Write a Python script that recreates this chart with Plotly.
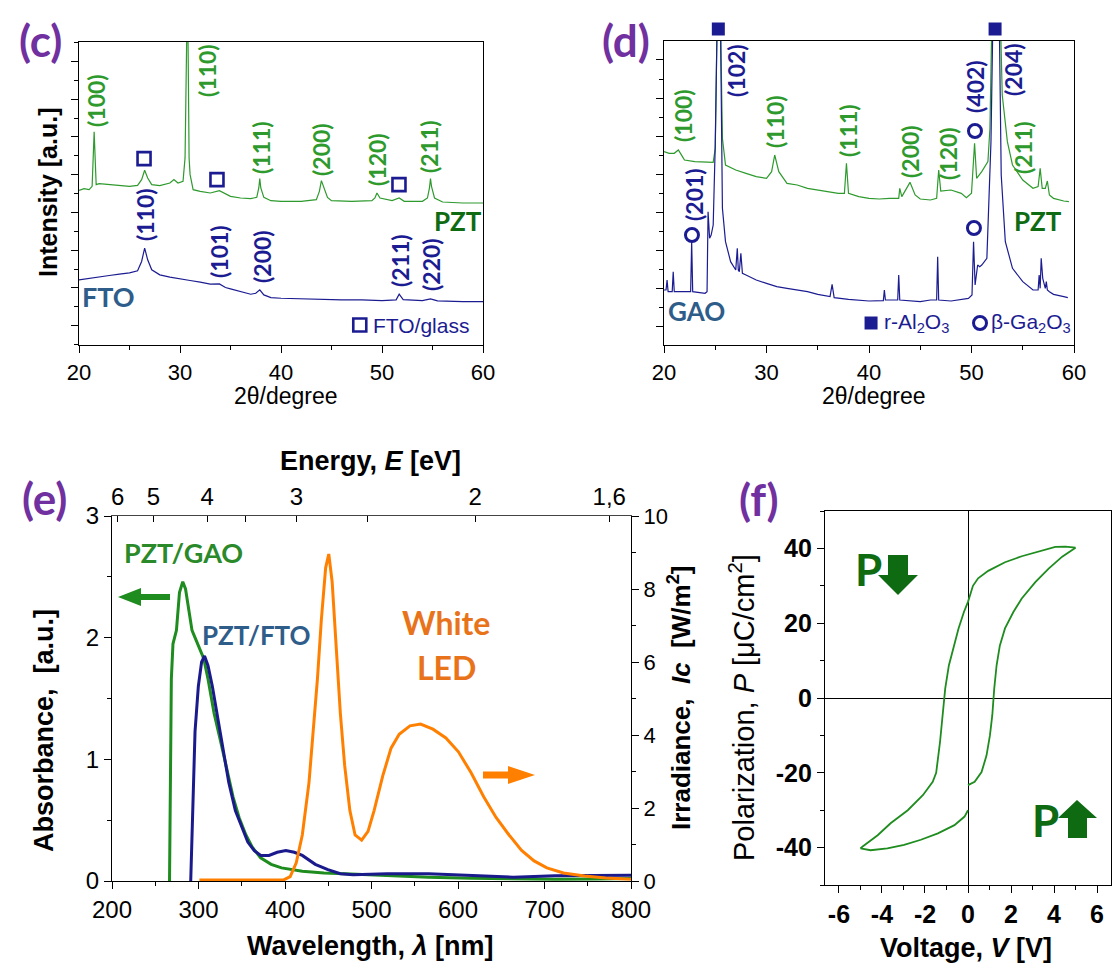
import plotly.graph_objects as go

W, H = 1120, 972

# ---------------- (c) XRD: PZT on FTO ----------------
c_pzt_tt = [20, 20.5, 21, 21.3, 21.5, 21.7, 22, 23, 24, 25,
            25.8, 26.2, 26.5, 26.8, 27.2, 28, 29, 29.4, 29.8, 30.3,
            30.5, 30.6, 30.7, 30.8, 30.9, 31.0, 31.3, 32, 33, 33.9,
            34.5, 35, 36, 37, 37.6, 37.8, 37.9, 38.0, 38.3, 39,
            40, 42, 43.5, 43.8, 44.0, 44.2, 44.6, 45, 47, 49,
            49.3, 49.5, 49.8, 51, 51.7, 52.2, 54, 54.5, 54.7, 54.8,
            54.9, 55.2, 56, 58, 60]
c_pzt_int = [463, 468, 465, 475, 638, 480, 483, 480, 477, 475,
             478, 495, 523, 500, 480, 477, 485, 495, 485, 490,
             560, 900, 1000, 900, 560, 510, 465, 460, 455, 462,
             452, 445, 440, 438, 442, 470, 498, 470, 442, 432,
             430, 430, 435, 460, 492, 475, 442, 432, 430, 432,
             440, 455, 440, 432, 440, 430, 430, 440, 470, 498,
             475, 440, 428, 425, 425]
c_fto_tt = [20, 21, 22, 23, 24, 25, 25.8, 26.2, 26.5, 26.8,
            27.2, 28, 29, 30, 31, 32, 33, 33.9, 34.5, 35,
            36, 37, 37.5, 37.9, 38.3, 39, 40, 42, 44, 46,
            48, 50, 51.4, 51.7, 52.1, 54, 54.8, 55.5, 58, 60]
c_fto_int = [195, 200, 205, 208, 212, 216, 222, 250, 290, 255,
             225, 210, 203, 197, 193, 188, 182, 183, 172, 168,
             160, 152, 155, 165, 150, 142, 140, 138, 138, 135,
             135, 133, 135, 152, 136, 133, 138, 132, 130, 130]
c_glass_tt = [26.44, 33.66, 51.68]
c_glass_int = [558, 495, 480]
c_legend_tt = [47.8]
c_legend_int = [60]
c_pzt_labels = ["(100)", "(110)", "(111)", "(200)", "(120)", "(211)"]
c_fto_labels = ["(110)", "(101)", "(200)", "(211)", "(220)"]

# ---------------- (d) XRD: PZT on GAO ----------------
d_gao_tt = [20, 20.2, 20.3, 20.4, 20.8, 20.9, 21.0, 22, 22.6, 22.7,
            22.8, 24, 24.2, 24.3, 24.45, 24.6, 24.8, 25.0, 25.2, 25.5,
            25.7, 26, 26.5, 27, 27.15, 27.25, 27.35, 27.5, 27.65, 28,
            29, 30, 31, 32, 34, 35, 36.2, 36.4, 36.6, 38,
            40, 41.4, 41.5, 41.6, 42.8, 42.9, 43.0, 45, 46, 46.6,
            46.7, 46.8, 48, 49.7, 50.05, 50.2, 50.35, 50.6, 50.8, 51,
            51.5, 51.9, 52.1, 52.7, 52.9, 53.3, 54, 55, 56, 56.5,
            56.6, 56.7, 56.8, 56.95, 57.2, 57.3, 57.4, 57.6, 58, 59,
            59.4]
d_gao_int = [165, 165, 195, 160, 160, 220, 160, 160, 160, 310,
             160, 155, 160, 400, 320, 330, 360, 600, 1000, 1000,
             410, 310, 250, 225, 290, 225, 220, 275, 215, 210,
             195, 185, 175, 170, 160, 152, 145, 182, 142, 137,
             132, 133, 165, 135, 135, 210, 135, 130, 135, 135,
             265, 135, 132, 140, 150, 310, 180, 240, 235, 240,
             260, 610, 1000, 1000, 510, 310, 230, 190, 165, 165,
             210, 170, 260, 200, 170, 190, 165, 160, 152, 145,
             142]
d_pzt_tt = [20, 20.5, 21, 21.4, 21.8, 22, 23, 24, 24.8, 25.0,
            25.2, 25.5, 25.7, 26, 27, 28, 29, 30, 30.5, 30.8,
            31.2, 32, 33, 34, 35, 36, 37, 37.6, 37.8, 38,
            39, 40, 41, 42, 42.9, 43.0, 43.2, 44, 44.5, 45,
            46, 46.6, 46.8, 47, 48, 49, 49.5, 50, 50.3, 50.5,
            51, 51.6, 51.8, 52.0, 52.8, 53, 53.5, 54, 55, 56,
            56.5, 56.7, 56.9, 57.2, 57.4, 57.6, 58, 59, 59.5]
d_pzt_int = [580, 575, 575, 585, 565, 555, 550, 548, 548, 590,
             1000, 1000, 620, 540, 525, 515, 505, 500, 520, 570,
             520, 485, 480, 470, 465, 460, 455, 455, 545, 455,
             445, 440, 438, 440, 440, 470, 445, 488, 450, 438,
             435, 440, 525, 462, 465, 455, 442, 455, 605, 500,
             520, 550, 650, 1000, 1000, 750, 610, 540, 495, 470,
             475, 530, 470, 470, 492, 450, 440, 432, 430]
d_al2o3_tt = [25.3, 52.3]          # substrate peaks marked above the frame
d_ga2o3_tt = [22.73, 50.34, 50.24]
d_ga2o3_int = [330, 642, 351]
d_legend_sq_tt, d_legend_sq_int = [40.2], [66]
d_legend_ci_tt, d_legend_ci_int = [50.83], [66]
d_pzt_labels = ["(100)", "(110)", "(111)", "(200)", "(120)", "(211)"]
d_sub_labels = ["(201)", "(102)", "(402)", "(204)"]

# ---------------- (e) absorbance / LED irradiance ----------------
gao_nm = [266.5, 267.5, 268.6, 270.5, 274.5, 278, 281.8, 285, 289, 292.5,
          296, 301, 306, 311, 318, 325.5, 333, 340, 347, 354.7,
          362, 371.8, 384, 396, 420, 445, 469, 518, 566, 615,
          664, 712, 761, 800]
gao_abs = [0, 1.2, 1.66, 1.95, 2.06, 2.37, 2.46, 2.40, 2.20, 2.06,
           2.0, 1.92, 1.83, 1.66, 1.38, 1.15, 0.92, 0.69, 0.52, 0.38,
           0.28, 0.19, 0.137, 0.108, 0.08, 0.065, 0.06, 0.043, 0.031, 0.023,
           0.017, 0.014, 0.017, 0.02]
fto_nm = [291, 293, 296, 299.8, 303.6, 307, 311, 316, 320.7, 328,
          335, 342.6, 350, 357, 364.5, 372, 381.5, 391, 401, 410.7,
          420, 435, 449.6, 464, 478.8, 518, 566, 615, 664, 712,
          761, 800]
fto_abs = [0, 0.52, 1.23, 1.6, 1.80, 1.85, 1.77, 1.6, 1.40, 1.09,
           0.81, 0.58, 0.44, 0.32, 0.25, 0.21, 0.21, 0.236, 0.25, 0.236,
           0.21, 0.137, 0.094, 0.06, 0.051, 0.06, 0.06, 0.043, 0.031, 0.043,
           0.048, 0.048]
led_nm = [301, 398.5, 406, 413, 420, 427.7, 432.6, 437.5, 442, 447,
          450.6, 454.5, 459, 464, 469, 475, 481, 488.6, 496, 503,
          513, 522.6, 532, 544.5, 556.7, 571, 586, 600.5, 615, 629.7,
          644, 659, 673.5, 688, 702.7, 722, 746.5, 770.8, 800]
led_irr = [0.03, 0.03, 0.12, 0.5, 1.26, 2.69, 4.11, 5.54, 7.15, 8.58,
           8.96, 8.2, 6.49, 4.59, 3.16, 1.93, 1.26, 1.12, 1.36, 1.93,
           2.88, 3.64, 4.02, 4.25, 4.30, 4.16, 3.92, 3.54, 2.97, 2.31,
           1.74, 1.26, 0.84, 0.55, 0.36, 0.22, 0.14, 0.085, 0.05]
energy_ev = [6, 5, 4, 3, 2, 1.6]
energy_text = ["6", "5", "4", "3", "2", "1,6"]
energy_minor_ev = [3.5, 2.5]

# ---------------- (f) P-V hysteresis ----------------
f_up_V = [5.0, 4.53, 4.06, 3.28, 2.5, 1.72, 0.94, 0.47, 0.23, 0.0,
          -0.19, -0.44, -0.7, -0.89, -1.06, -1.17, -1.3, -1.48, -1.64, -2.1,
          -2.8, -3.6, -4.2, -4.9, -5.0]
f_up_P = [40.2, 40.5, 40.4, 39.1, 37.9, 36.3, 34.0, 32.0, 30.0, 25.7,
          23.0, 18.6, 13.2, 8.7, 2.5, -4.6, -11.7, -20.0, -22.4, -26.0,
          -30.0, -33.5, -36.7, -39.7, -40.2]
f_dn_V = [-5.0, -4.53, -3.75, -2.97, -2.19, -1.4, -0.63, -0.16, 0.0, None,
          0.0, 0.31, 0.63, 0.86, 1.02, 1.13, 1.22, 1.33, 1.48, 1.72,
          2.11, 2.5, 3.13, 3.75, 4.38, 5.0]
f_dn_P = [-40.2, -40.7, -40.2, -39.3, -37.9, -36.2, -34.0, -31.7, -30.0, None,
          -23.3, -22.4, -19.8, -15.4, -10.0, -4.6, 2.5, 8.75, 14.0, 18.6,
          23.0, 26.6, 31.0, 34.6, 37.8, 40.2]
f_v_ticks = [-6, -4, -2, 0, 2, 4, 6]
f_v_text = ["-6", "-4", "-2", "0", "2", "4", "6"]
f_p_ticks = [-40, -20, 0, 20, 40]
f_p_text = ["-40", "-20", "0", "20", "40"]

# ---------------- styling ----------------
GREEN = "#2E9A2E"
NAVY = "#1C1C92"
DKGREEN = "#0E6B12"
STEEL = "#2F5D8A"
PURPLE = "#7030A0"
ORANGE = "#FF8000"
ORANGE_TXT = "#E8731A"
ARIAL = "Liberation Sans"
CAL = "Lato"


def px(x, y):
    return x / W, 1 - y / H


def dom_x(a, b):
    return [a / W, b / W]


def dom_y(top, bottom):
    return [1 - bottom / H, 1 - top / H]


fig = go.Figure()

# (c)
fig.add_trace(go.Scatter(x=c_pzt_tt, y=c_pzt_int, mode="lines", line=dict(color=GREEN, width=1.2),
                         xaxis="x", yaxis="y"))
fig.add_trace(go.Scatter(x=c_fto_tt, y=c_fto_int, mode="lines", line=dict(color=NAVY, width=1.2),
                         xaxis="x", yaxis="y"))
fig.add_trace(go.Scatter(x=c_glass_tt + c_legend_tt, y=c_glass_int + c_legend_int, mode="markers",
                         marker=dict(symbol="square-open", size=13, color=NAVY, line=dict(width=2.6, color=NAVY)),
                         xaxis="x", yaxis="y", cliponaxis=False))

# (d)
fig.add_trace(go.Scatter(x=d_pzt_tt, y=d_pzt_int, mode="lines", line=dict(color=GREEN, width=1.2),
                         xaxis="x2", yaxis="y2"))
fig.add_trace(go.Scatter(x=d_gao_tt, y=d_gao_int, mode="lines", line=dict(color=NAVY, width=1.2),
                         xaxis="x2", yaxis="y2"))
fig.add_trace(go.Scatter(x=d_legend_sq_tt, y=d_legend_sq_int, mode="markers",
                         marker=dict(symbol="square", size=13, color=NAVY),
                         xaxis="x2", yaxis="y2", cliponaxis=False))
fig.add_trace(go.Scatter(x=d_ga2o3_tt + d_legend_ci_tt, y=d_ga2o3_int + d_legend_ci_int, mode="markers",
                         marker=dict(symbol="circle-open", size=13, color=NAVY, line=dict(width=3, color=NAVY)),
                         xaxis="x2", yaxis="y2", cliponaxis=False))

# (e)
fig.add_trace(go.Scatter(x=gao_nm, y=gao_abs, mode="lines", line=dict(color="#1E8C1E", width=3),
                         xaxis="x3", yaxis="y3"))
fig.add_trace(go.Scatter(x=fto_nm, y=fto_abs, mode="lines", line=dict(color="#1A1A8C", width=3),
                         xaxis="x3", yaxis="y3"))
fig.add_trace(go.Scatter(x=led_nm, y=led_irr, mode="lines", line=dict(color=ORANGE, width=3),
                         xaxis="x4", yaxis="y4"))

# (f)
fig.add_trace(go.Scatter(x=f_up_V, y=f_up_P, mode="lines", line=dict(color="#1E8C1E", width=1.8),
                         xaxis="x5", yaxis="y5"))
fig.add_trace(go.Scatter(x=f_dn_V, y=f_dn_P, mode="lines", line=dict(color="#1E8C1E", width=1.8),
                         xaxis="x5", yaxis="y5", connectgaps=False))

AX = dict(showgrid=False, zeroline=False, showline=True, linecolor="black", linewidth=1.3,
          ticks="outside", tickcolor="black", tickwidth=1.3, automargin=False)

fig.update_layout(
    width=W, height=H, autosize=False, margin=dict(l=0, r=0, t=0, b=0, autoexpand=False),
    paper_bgcolor="white", plot_bgcolor="white", showlegend=False,
    font=dict(family=ARIAL, color="black"),
    # (c)
    xaxis=dict(AX, domain=dom_x(71, 475), anchor="y", range=[20, 60], dtick=10, ticklen=7, mirror=True,
               minor=dict(dtick=5, ticklen=4, ticks="outside", tickcolor="black"),
               tickfont=dict(size=22, family=ARIAL)),
    yaxis=dict(AX, domain=dom_y(34, 337), anchor="x", range=[0, 907], tick0=58, dtick=113, ticklen=7,
               showticklabels=False, mirror=True,
               minor=dict(tick0=1.5, dtick=56.5, ticklen=4, ticks="outside", tickcolor="black")),
    # (d)
    xaxis2=dict(AX, domain=dom_x(656, 1066), anchor="y2", range=[20, 60], dtick=10, ticklen=7, mirror=True,
                minor=dict(dtick=5, ticklen=4, ticks="outside", tickcolor="black"),
                tickfont=dict(size=22, family=ARIAL)),
    yaxis2=dict(AX, domain=dom_y(33, 337), anchor="x2", range=[0, 912], tick0=55, dtick=114.3, ticklen=7,
                showticklabels=False, mirror=True,
                minor=dict(tick0=-2.15, dtick=57.15, ticklen=4, ticks="outside", tickcolor="black")),
    # (e)
    xaxis3=dict(AX, domain=dom_x(104, 623), anchor="y3", range=[200, 800], dtick=100, ticklen=7,
                minor=dict(dtick=50, ticklen=4, ticks="outside", tickcolor="black"),
                tickfont=dict(size=24, family=ARIAL)),
    yaxis3=dict(AX, domain=dom_y(508, 873), anchor="x3", range=[0, 3], dtick=1, ticklen=7,
                minor=dict(dtick=0.5, ticklen=4, ticks="outside", tickcolor="black"),
                tickfont=dict(size=24, family=ARIAL)),
    xaxis4=dict(AX, overlaying="x3", side="top", anchor="y4", range=[200, 800], ticks="inside", ticklen=6,
                tickvals=[1239.84 / e for e in energy_ev], ticktext=energy_text, linecolor="#444",
                minor=dict(tickvals=[1239.84 / e for e in energy_minor_ev], ticks="inside", ticklen=6,
                           tickcolor="black"),
                tickfont=dict(size=24, family=ARIAL)),
    yaxis4=dict(AX, overlaying="y3", side="right", anchor="x4", range=[0, 10], dtick=2, ticklen=7,
                minor=dict(dtick=1, ticklen=4, ticks="outside", tickcolor="black"),
                tickfont=dict(size=22, family=ARIAL)),
    # (f)
    xaxis5=dict(AX, domain=dom_x(817, 1103), anchor="y5", range=[-6.65, 6.65], ticklen=7, mirror=True,
                tickvals=f_v_ticks, ticktext=f_v_text,
                zeroline=True, zerolinecolor="black", zerolinewidth=1.2,
                minor=dict(dtick=1, ticklen=4, ticks="outside", tickcolor="black"),
                tickfont=dict(size=25, family=ARIAL, weight="bold")),
    yaxis5=dict(AX, domain=dom_y(503, 877), anchor="x5", range=[-50, 50], ticklen=7, mirror=True,
                tickvals=f_p_ticks, ticktext=f_p_text,
                zeroline=True, zerolinecolor="black", zerolinewidth=1.2,
                minor=dict(dtick=10, ticklen=4, ticks="outside", tickcolor="black"),
                tickfont=dict(size=25, family=ARIAL, weight="bold")),
)

anns = []


def ann(x, y, text, size, color="black", family=ARIAL, angle=0, xanchor="center"):
    ax_, ay_ = px(x, y)
    anns.append(dict(x=ax_, y=ay_, xref="paper", yref="paper", text=text, showarrow=False,
                     font=dict(size=size, color=color, family=family), textangle=angle,
                     xanchor=xanchor, yanchor="middle"))


# panel letters
for (lx, ly, lt) in [(32, 32, "(c)"), (618, 32, "(d)"), (36, 490, "(e)"), (750, 491, "(f)")]:
    ann(lx, ly, "<b>" + lt + "</b>", 44, PURPLE, CAL)

# (c) texts
ann(40, 185, "<b>Intensity [a.u.]</b>", 25, angle=-90)
ann(278, 388, "2θ/degree", 23)
c_pzt_pos = [(88, 93), (199, 63), (253, 140), (313, 142), (369, 152), (421, 139)]
for t, (x, y) in zip(c_pzt_labels, c_pzt_pos):
    ann(x, y, "<b>" + t + "</b>", 23, GREEN, CAL, angle=-90)
c_fto_pos = [(137, 207), (211, 244), (254, 249), (392, 253), (423, 257)]
for t, (x, y) in zip(c_fto_labels, c_fto_pos):
    ann(x, y, "<b>" + t + "</b>", 23, NAVY, CAL, angle=-90)
ann(450, 213, "<b>PZT</b>", 26, DKGREEN, CAL)
ann(100, 288, "<b>FTO</b>", 27, STEEL, CAL)
ann(363, 317, "FTO/glass", 21, NAVY, xanchor="left")

# (d) texts
ann(866, 388, "2θ/degree", 23)
d_pzt_pos = [(675, 108), (767, 114), (840, 123), (902, 144), (940, 146), (1015, 140)]
for t, (x, y) in zip(d_pzt_labels, d_pzt_pos):
    ann(x, y, "<b>" + t + "</b>", 23, GREEN, CAL, angle=-90)
d_sub_pos = [(686, 187), (728, 63), (967, 79), (1005, 62)]
for t, (x, y) in zip(d_sub_labels, d_sub_pos):
    ann(x, y, "<b>" + t + "</b>", 23, NAVY, CAL, angle=-90)
ann(1030, 213, "<b>PZT</b>", 26, DKGREEN, CAL)
ann(688, 303, "<b>GAO</b>", 26, STEEL, CAL)
ann(874, 315, "r-Al<sub>2</sub>O<sub>3</sub>", 21, NAVY, xanchor="left")
ann(981, 315, "β-Ga<sub>2</sub>O<sub>3</sub>", 21, NAVY, xanchor="left")

# (e) texts
ann(362, 453, "<b>Energy, <i>E</i> [eV]</b>", 27)
ann(362, 938, "<b>Wavelength, <i>λ</i> [nm]</b>", 27)
ann(36, 723, "<b>Absorbance,  [a.u.]</b>", 27, angle=-90)
ann(671, 690, "<b>Irradiance,  <i>Ic</i>  [W/m<sup>2</sup>]</b>", 26, angle=-90)
ann(175, 544, "<b>PZT/GAO</b>", 27, "#2A8A2A", CAL)
ann(248, 627, "<b>PZT/FTO</b>", 26, STEEL, CAL)
ann(438, 614, "<b>White</b>", 32, ORANGE_TXT, CAL)
ann(438, 659, "<b>LED</b>", 32, ORANGE_TXT, CAL)

# (f) texts
ann(734, 700, "Polarization, <i>P</i> [μC/cm<sup>2</sup>]", 29, angle=-90)
ann(958, 940, "<b>Voltage, <i>V</i> [V]</b>", 27)
ann(860, 561, "<b>P</b>", 44, DKGREEN, CAL)
ann(1037, 812, "<b>P</b>", 44, DKGREEN, CAL)

fig.update_layout(annotations=anns)


def path(points):
    s = ""
    for i, (x, y) in enumerate(points):
        fx, fy = px(x, y)
        s += ("M" if i == 0 else "L") + f"{fx:.5f},{fy:.5f} "
    return s + "Z"


shapes = []
# filled squares marking r-Al2O3 peaks, just above the (d) frame
for t in d_al2o3_tt:
    shapes.append(dict(type="rect", xref="x2", yref="paper", xsizemode="pixel", ysizemode="pixel",
                       xanchor=t, yanchor=px(0, 21)[1], x0=-6.5, x1=6.5, y0=-6.5, y1=6.5,
                       fillcolor=NAVY, line=dict(width=0)))
shapes.append(dict(type="path", xref="paper", yref="paper", fillcolor="#1E8C1E", line=dict(width=0),
                   path=path([(110, 589), (133, 580), (133, 586), (162, 586), (162, 592), (133, 592), (133, 598)])))
shapes.append(dict(type="path", xref="paper", yref="paper", fillcolor=ORANGE, line=dict(width=0),
                   path=path([(527, 767), (500, 758), (500, 763.5), (475, 763.5), (475, 770.5), (500, 770.5), (500, 776)])))
shapes.append(dict(type="path", xref="paper", yref="paper", fillcolor=DKGREEN, line=dict(width=0),
                   path=path([(880, 547), (900, 547), (900, 567), (910, 567), (890, 587), (870, 567), (880, 567)])))
shapes.append(dict(type="path", xref="paper", yref="paper", fillcolor=DKGREEN, line=dict(width=0),
                   path=path([(1069, 792), (1089, 810), (1079, 810), (1079, 830), (1060, 830), (1060, 810), (1050, 810)])))
fig.update_layout(shapes=shapes)

fig.write_html("out.html")
